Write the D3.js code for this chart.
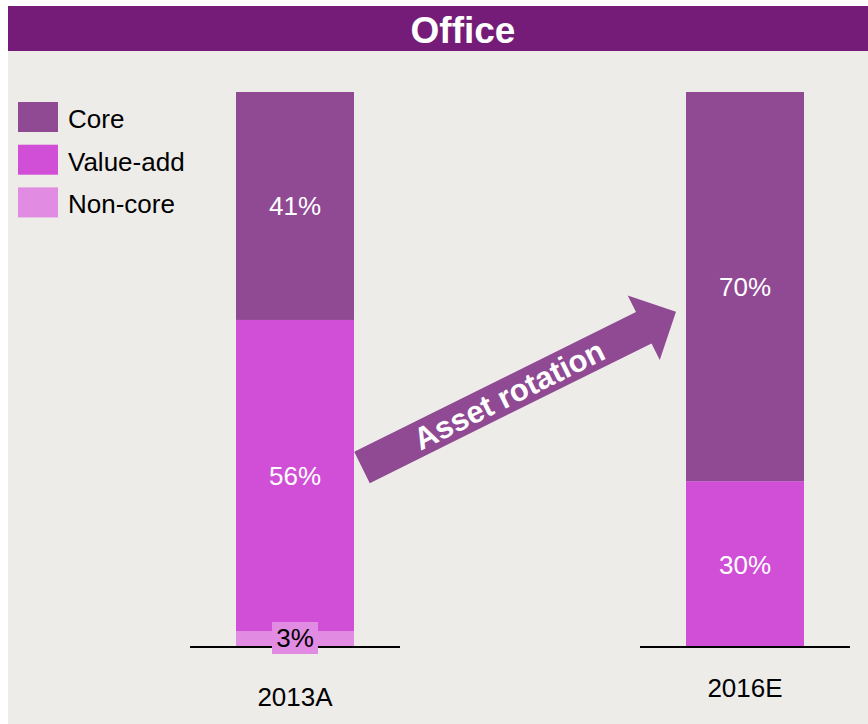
<!DOCTYPE html>
<html>
<head>
<meta charset="utf-8">
<script src="https://cdn.jsdelivr.net/npm/d3@7"></script>
<style>
  body { margin: 0; background: #ffffff; }
  text { font-family: Arial, "Liberation Sans", sans-serif; }
</style>
</head>
<body>
<script>
const years = ["2013A", "2016E"];
const seriesNames = ["Core", "Value-add", "Non-core"];
const core = [41, 70];
const valueAdd = [56, 30];
const nonCore = [3, 0];
const colors = ["#904a94", "#d04fd6", "#e18be2"];

const width = 868;
const height = 724;
const fs = 26;

const svg = d3.select("body")
  .append("svg")
  .attr("width", width)
  .attr("height", height);

// panel background + title bar
svg.append("rect")
  .attr("x", 8).attr("y", 6)
  .attr("width", width - 8).attr("height", height - 6)
  .attr("fill", "#eeece9");

svg.append("rect")
  .attr("x", 8).attr("y", 6)
  .attr("width", width - 8).attr("height", 45)
  .attr("fill", "#751c79");

svg.append("text")
  .attr("x", 463).attr("y", 43)
  .attr("text-anchor", "middle")
  .attr("fill", "white")
  .attr("font-weight", "bold")
  .attr("font-size", 37)
  .text("Office");

// data table for stacking
const rows = years.map((y, i) => ({
  year: y,
  "Core": core[i],
  "Value-add": valueAdd[i],
  "Non-core": nonCore[i]
}));

// bottom-up order: Non-core, Value-add, Core
const stack = d3.stack().keys(["Non-core", "Value-add", "Core"]);
const layers = stack(rows);

const x = d3.scalePoint()
  .domain(years)
  .range([295, 745]);

const y = d3.scaleLinear()
  .domain([0, 100])
  .range([648, 92]);

const barW = 118;
const color = d3.scaleOrdinal().domain(seriesNames).range(colors);

const layerG = svg.selectAll("g.layer")
  .data(layers)
  .enter()
  .append("g")
  .attr("class", "layer")
  .attr("fill", d => color(d.key));

layerG.selectAll("rect")
  .data(d => d)
  .enter()
  .append("rect")
  .attr("x", d => x(d.data.year) - barW / 2)
  .attr("y", d => y(d[1]))
  .attr("width", barW)
  .attr("height", d => y(d[0]) - y(d[1]));

// baselines under each bar
svg.selectAll("line.base")
  .data(years)
  .enter()
  .append("line")
  .attr("class", "base")
  .attr("x1", d => x(d) - 105)
  .attr("x2", d => x(d) + 105)
  .attr("y1", y(0) - 1)
  .attr("y2", y(0) - 1)
  .attr("stroke", "black")
  .attr("stroke-width", 2);

// segment labels
const segs = [];
layers.forEach(l => l.forEach(d => {
  if (d[1] - d[0] > 0) segs.push({ key: l.key, year: d.data.year, lo: d[0], hi: d[1] });
}));

segs.filter(s => s.hi - s.lo >= 10).forEach(s => {
  svg.append("text")
    .attr("x", x(s.year))
    .attr("y", (y(s.lo) + y(s.hi)) / 2 + 9)
    .attr("text-anchor", "middle")
    .attr("fill", "white")
    .attr("font-size", fs)
    .text((s.hi - s.lo) + "%");
});

// small segment gets a boxed label
segs.filter(s => s.hi - s.lo < 10).forEach(s => {
  const cy = 638;
  svg.append("rect")
    .attr("x", x(s.year) - 23)
    .attr("y", cy - 16)
    .attr("width", 46)
    .attr("height", 32)
    .attr("fill", color(s.key));
  svg.append("text")
    .attr("x", x(s.year))
    .attr("y", cy + 9)
    .attr("text-anchor", "middle")
    .attr("fill", "black")
    .attr("font-size", fs)
    .text((s.hi - s.lo) + "%");
});

// category labels
const catY = [706, 697];
svg.selectAll("text.cat")
  .data(years)
  .enter()
  .append("text")
  .attr("class", "cat")
  .attr("x", d => x(d))
  .attr("y", (d, i) => catY[i])
  .attr("text-anchor", "middle")
  .attr("fill", "black")
  .attr("font-size", fs)
  .text(d => d);

// legend
const legend = svg.selectAll("g.legend")
  .data(seriesNames)
  .enter()
  .append("g")
  .attr("class", "legend")
  .attr("transform", (d, i) => "translate(18," + (102 + i * 42.7) + ")");

legend.append("rect")
  .attr("width", 40)
  .attr("height", 30)
  .attr("fill", d => color(d));

legend.append("text")
  .attr("x", 50)
  .attr("y", 26)
  .attr("font-size", fs)
  .attr("fill", "black")
  .text(d => d);

// "Asset rotation" arrow
const tail = [362, 467.5];
const tip = [676, 311.7];
const dx = tip[0] - tail[0], dy = tip[1] - tail[1];
const len = Math.sqrt(dx * dx + dy * dy);
const ang = Math.atan2(dy, dx) * 180 / Math.PI;
const shaftH = 35, headH = 72, headL = 36;

const arrow = svg.append("g")
  .attr("transform", "translate(" + tail[0] + "," + tail[1] + ") rotate(" + ang + ")");

arrow.append("path")
  .attr("d", d3.line()([
    [0, -shaftH / 2], [len - headL, -shaftH / 2], [len - headL, -headH / 2],
    [len, 0],
    [len - headL, headH / 2], [len - headL, shaftH / 2], [0, shaftH / 2]
  ]) + "Z")
  .attr("fill", "#904a94");

arrow.append("text")
  .attr("x", 164)
  .attr("y", 11)
  .attr("text-anchor", "middle")
  .attr("fill", "white")
  .attr("font-weight", "bold")
  .attr("font-size", 31)
  .text("Asset rotation");
</script>
</body>
</html>
